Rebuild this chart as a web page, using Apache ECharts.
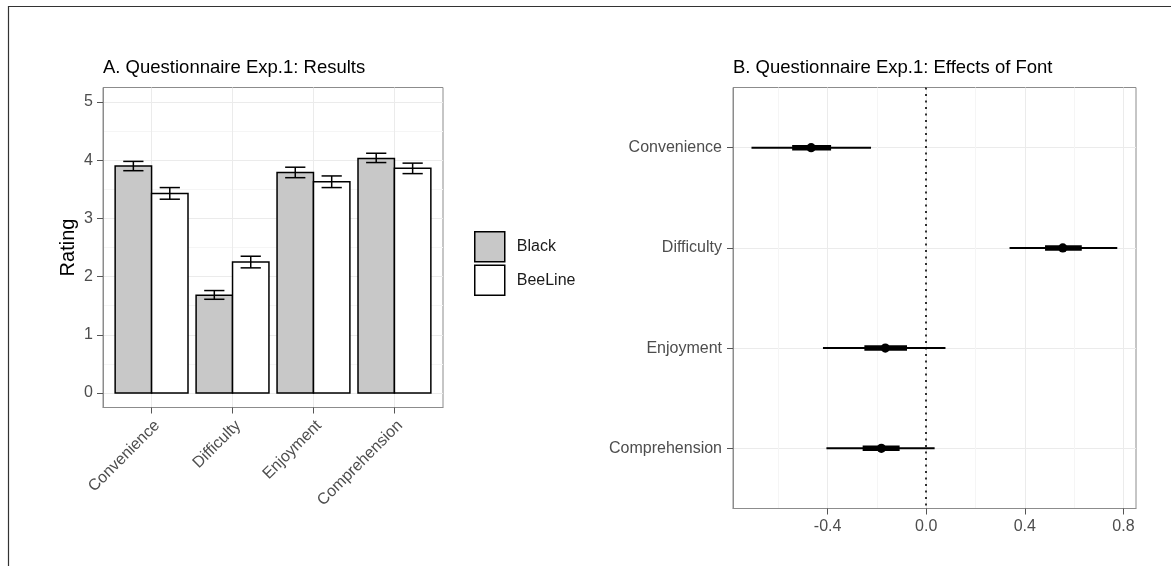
<!DOCTYPE html>
<html><head><meta charset="utf-8">
<script src="https://cdn.jsdelivr.net/npm/echarts@6/dist/echarts.min.js"></script>
<style>html,body{margin:0;padding:0;background:#fff}#c{width:1171px;height:566px}</style>
</head><body><div id="c"></div>
<script>
// ---- Panel A data ----
const categories = ['Convenience', 'Difficulty', 'Enjoyment', 'Comprehension'];
const blackMean = [3.90, 1.68, 3.79, 4.03];
const blackLo   = [3.82, 1.61, 3.70, 3.96];
const blackHi   = [3.98, 1.76, 3.88, 4.12];
const beeMean   = [3.43, 2.25, 3.63, 3.86];
const beeLo     = [3.33, 2.15, 3.53, 3.77];
const beeHi     = [3.53, 2.35, 3.73, 3.95];
const ratingTicks = [0, 1, 2, 3, 4, 5];
const ratingMinor = [0.5, 1.5, 2.5, 3.5, 4.5];
// ---- Panel B data ----
const effEst  = [-0.467, 0.554, -0.166, -0.182];
const eff95Lo = [-0.709, 0.338, -0.419, -0.405];
const eff95Hi = [-0.224, 0.775, 0.078, 0.034];
const eff50Lo = [-0.544, 0.482, -0.251, -0.258];
const eff50Hi = [-0.386, 0.631, -0.078, -0.108];
const effTicks = [-0.4, 0.0, 0.4, 0.8];
const effMinor = [-0.6, -0.2, 0.2, 0.6];

const catPos = categories.map((c, i) => i + 1);
const FONT = 'Liberation Sans, Arial, sans-serif';
const BORDER = '#8c8c8c';
const TICK = '#555555';
const LABEL = '#4d4d4d';
const GRID = '#ebebeb';
const GRIDMINOR = '#f5f5f5';
const HALF = 0.225, CAP = 0.125;

function barRender(offset, fill) {
  return function (params, api) {
    const x = api.value(0) + offset, y = api.value(1);
    const p0 = api.coord([x - HALF, y]);
    const p1 = api.coord([x + HALF, 0]);
    return { type: 'rect', shape: { x: p0[0], y: p0[1], width: p1[0] - p0[0], height: p1[1] - p0[1] },
      style: { fill: fill, stroke: '#000', lineWidth: 1.5 } };
  };
}
function errRender(offset) {
  return function (params, api) {
    const x = api.value(0) + offset, lo = api.value(1), hi = api.value(2);
    const a = api.coord([x - CAP, hi]), b = api.coord([x + CAP, hi]);
    const c = api.coord([x - CAP, lo]), d = api.coord([x + CAP, lo]);
    const m1 = api.coord([x, hi]), m2 = api.coord([x, lo]);
    const st = { stroke: '#000', lineWidth: 1.5 };
    return { type: 'group', children: [
      { type: 'line', shape: { x1: a[0], y1: a[1], x2: b[0], y2: b[1] }, style: st },
      { type: 'line', shape: { x1: c[0], y1: c[1], x2: d[0], y2: d[1] }, style: st },
      { type: 'line', shape: { x1: m1[0], y1: m1[1], x2: m2[0], y2: m2[1] }, style: st }
    ] };
  };
}
function forestRender(params, api) {
  const est = api.value(0), row = api.value(1);
  const t0 = api.coord([api.value(2), row]), t1 = api.coord([api.value(3), row]);
  const k0 = api.coord([api.value(4), row]), k1 = api.coord([api.value(5), row]);
  const p = api.coord([est, row]);
  return { type: 'group', children: [
    { type: 'line', shape: { x1: t0[0], y1: t0[1], x2: t1[0], y2: t1[1] }, style: { stroke: '#000', lineWidth: 2 } },
    { type: 'line', shape: { x1: k0[0], y1: k0[1], x2: k1[0], y2: k1[1] }, style: { stroke: '#000', lineWidth: 5.5 } },
    { type: 'circle', shape: { cx: p[0], cy: p[1], r: 4.6 }, style: { fill: '#000' } }
  ] };
}

const axisText = { fontSize: 16, color: LABEL, fontFamily: FONT };

const option = {
  animation: false,
  textStyle: { fontFamily: FONT },
  graphic: [{ type: 'rect', silent: true, z: -10,
    shape: { x: 8.5, y: 6.5, width: 1200, height: 700 },
    style: { fill: 'none', stroke: '#333', lineWidth: 1.2 } }],
  title: [
    { text: 'A. Questionnaire Exp.1: Results', left: 103, top: 58, padding: 0,
      textStyle: { fontSize: 18.5, fontWeight: 'normal', color: '#000', fontFamily: FONT } },
    { text: 'B. Questionnaire Exp.1: Effects of Font', left: 733, top: 58, padding: 0,
      textStyle: { fontSize: 18.5, fontWeight: 'normal', color: '#000', fontFamily: FONT } }
  ],
  legend: {
    left: 474, top: 231, orient: 'vertical', itemWidth: 30, itemHeight: 30, itemGap: 2, padding: 0,
    selectedMode: false,
    textStyle: { fontSize: 16, color: '#1a1a1a', fontFamily: FONT, padding: [0, 0, 0, 7] },
    data: [
      { name: 'Black', icon: 'rect', itemStyle: { color: '#c8c8c8', borderColor: '#000', borderWidth: 1.5 } },
      { name: 'BeeLine', icon: 'rect', itemStyle: { color: '#ffffff', borderColor: '#000', borderWidth: 1.5 } }
    ]
  },
  grid: [
    { left: 103, top: 87.5, width: 340, height: 320, show: true, borderColor: BORDER, borderWidth: 1, backgroundColor: 'transparent' },
    { left: 733, top: 87.5, width: 403, height: 421, show: true, borderColor: BORDER, borderWidth: 1, backgroundColor: 'transparent' }
  ],
  xAxis: [
    { gridIndex: 0, type: 'value', min: 0.4, max: 4.6, position: 'bottom',
      axisLine: { show: true, onZero: false, lineStyle: { color: BORDER } },
      axisTick: { show: true, inside: false, customValues: catPos, length: 6, lineStyle: { color: TICK } },
      axisLabel: Object.assign({ customValues: catPos, rotate: 45, margin: 10, align: 'right', verticalAlign: 'top',
        formatter: v => categories[Math.round(v) - 1] }, axisText),
      splitLine: { show: true, lineStyle: { color: GRID, width: 1 } } },
    { gridIndex: 1, type: 'value', min: -0.784, max: 0.851, position: 'bottom',
      axisLine: { show: true, onZero: false, lineStyle: { color: BORDER } },
      axisTick: { show: true, inside: false, customValues: effTicks, length: 6, lineStyle: { color: TICK } },
      axisLabel: Object.assign({ customValues: effTicks, margin: 10,
        formatter: v => (Math.abs(v) < 1e-9 ? 0 : v).toFixed(1) }, axisText),
      splitLine: { show: true, lineStyle: { color: GRID, width: 1 } } },
    { gridIndex: 1, type: 'value', min: -0.784, max: 0.851, position: 'bottom',
      axisLine: { show: false, onZero: false }, axisLabel: { show: false },
      axisTick: { show: false, customValues: effMinor },
      splitLine: { show: true, lineStyle: { color: GRIDMINOR, width: 1 } } }
  ],
  yAxis: [
    { gridIndex: 0, type: 'value', min: -0.25, max: 5.25, position: 'left',
      name: 'Rating', nameLocation: 'middle', nameGap: 25,
      nameTextStyle: { fontSize: 20, color: '#000', fontFamily: FONT },
      axisLine: { show: true, onZero: false, lineStyle: { color: BORDER } },
      axisTick: { show: true, inside: false, customValues: ratingTicks, length: 6, lineStyle: { color: TICK } },
      axisLabel: Object.assign({ customValues: ratingTicks, margin: 10 }, axisText),
      splitLine: { show: true, lineStyle: { color: GRID, width: 1 } } },
    { gridIndex: 0, type: 'value', min: -0.25, max: 5.25, position: 'left',
      axisLine: { show: false, onZero: false }, axisLabel: { show: false },
      axisTick: { show: false, customValues: ratingMinor },
      splitLine: { show: true, lineStyle: { color: GRIDMINOR, width: 1 } } },
    { gridIndex: 1, type: 'value', min: 0.4, max: 4.6, inverse: true, position: 'left',
      axisLine: { show: true, onZero: false, lineStyle: { color: BORDER } },
      axisTick: { show: true, inside: false, customValues: catPos, length: 6, lineStyle: { color: TICK } },
      axisLabel: Object.assign({ customValues: catPos, margin: 11,
        formatter: v => categories[Math.round(v) - 1] }, axisText),
      splitLine: { show: true, lineStyle: { color: GRID, width: 1 } } }
  ],
  series: [
    { type: 'custom', name: 'Black', xAxisIndex: 0, yAxisIndex: 0, itemStyle: { color: '#c8c8c8' },
      data: catPos.map((x, i) => [x, blackMean[i]]), renderItem: barRender(-HALF, '#c8c8c8'), z: 2 },
    { type: 'custom', name: 'BeeLine', xAxisIndex: 0, yAxisIndex: 0, itemStyle: { color: '#ffffff' },
      data: catPos.map((x, i) => [x, beeMean[i]]), renderItem: barRender(HALF, '#ffffff'), z: 2 },
    { type: 'custom', name: 'Black SE', xAxisIndex: 0, yAxisIndex: 0,
      data: catPos.map((x, i) => [x, blackLo[i], blackHi[i]]), renderItem: errRender(-HALF), z: 3 },
    { type: 'custom', name: 'BeeLine SE', xAxisIndex: 0, yAxisIndex: 0,
      data: catPos.map((x, i) => [x, beeLo[i], beeHi[i]]), renderItem: errRender(HALF), z: 3 },
    { type: 'custom', name: 'Effect', xAxisIndex: 1, yAxisIndex: 2, z: 3,
      data: catPos.map((y, i) => [effEst[i], y, eff95Lo[i], eff95Hi[i], eff50Lo[i], eff50Hi[i]]),
      renderItem: forestRender,
      markLine: { silent: true, symbol: ['none', 'none'], label: { show: false },
        lineStyle: { type: [2, 4.5], color: '#000', width: 1.6 },
        data: [{ xAxis: 0 }] } }
  ]
};
const chart = echarts.init(document.getElementById('c'), null, { renderer: 'canvas' });
chart.setOption(option);
</script></body></html>
